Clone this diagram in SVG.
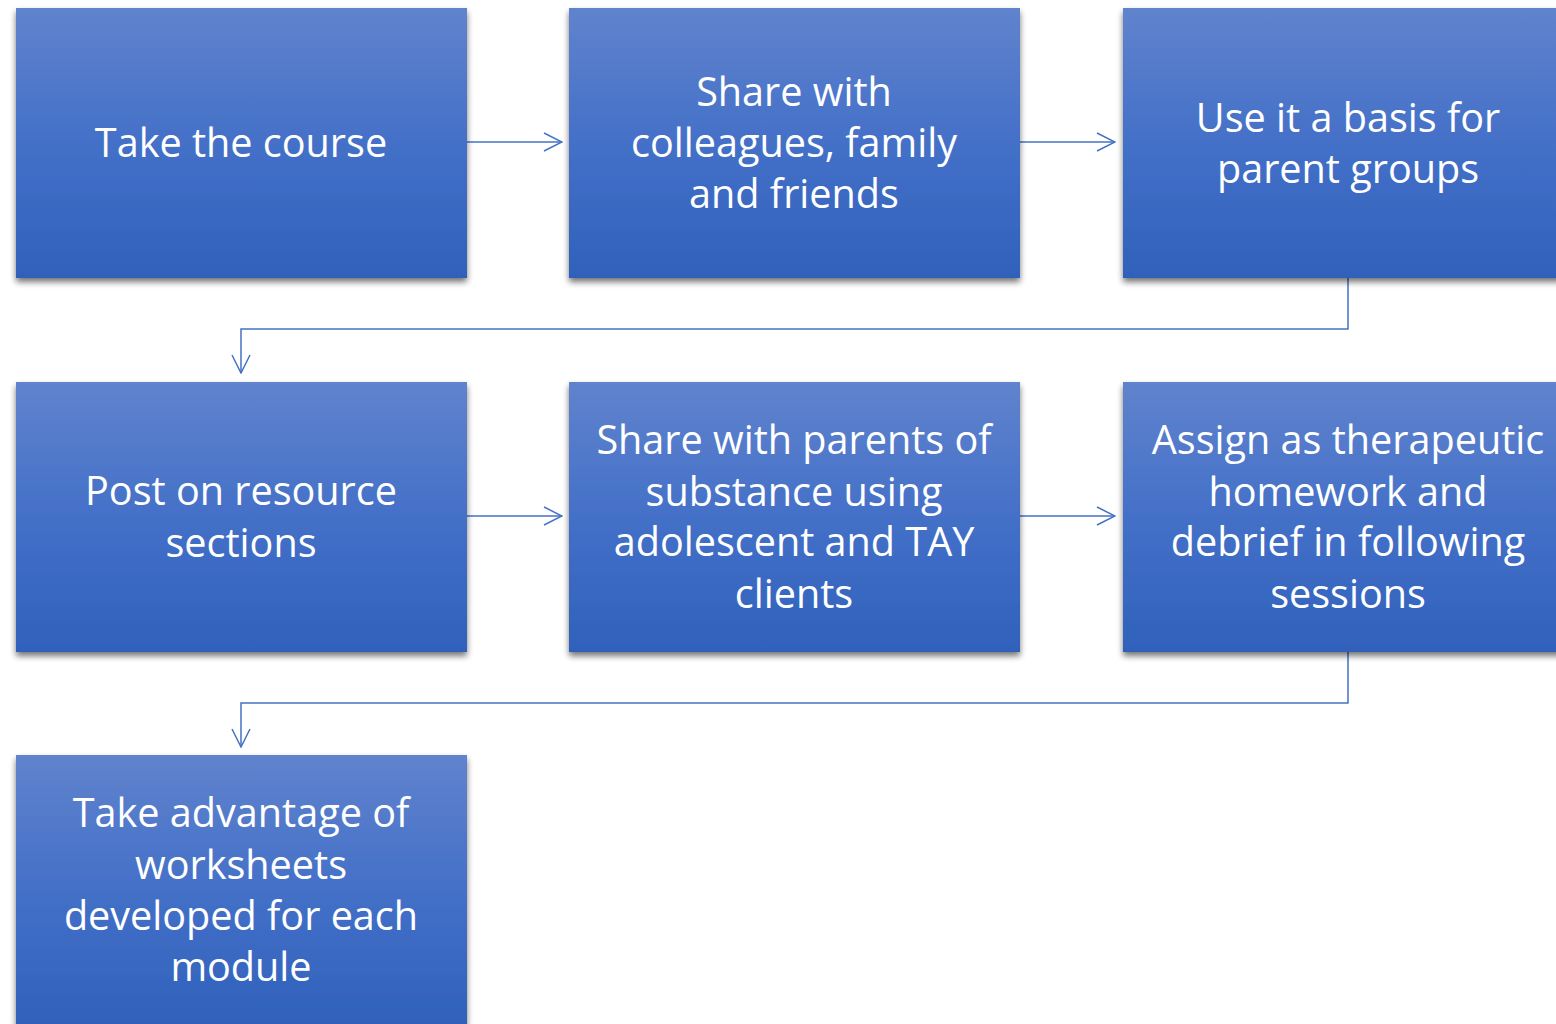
<svg xmlns="http://www.w3.org/2000/svg" width="1556" height="1024" viewBox="0 0 1556 1024">
<style>
.box{fill:url(#g);filter:url(#sh)}
.t{font-family:"Open Sans","Noto Sans","Liberation Sans",sans-serif;font-size:39.6px;fill:#ffffff;text-anchor:middle}
.c{fill:none;stroke:#4472c4;stroke-width:1.5;marker-end:url(#ah)}
</style>
<defs>
<linearGradient id="g" x1="0" y1="0" x2="0" y2="1">
<stop offset="0" stop-color="#6083cd"/>
<stop offset="0.5" stop-color="#4470c8"/>
<stop offset="1" stop-color="#2f61bb"/>
</linearGradient>
<filter id="sh" x="-10%" y="-10%" width="120%" height="130%">
<feGaussianBlur in="SourceAlpha" stdDeviation="3"/>
<feOffset dx="0" dy="4" result="b"/>
<feComponentTransfer><feFuncA type="linear" slope="0.55"/></feComponentTransfer>
<feMerge><feMergeNode/><feMergeNode in="SourceGraphic"/></feMerge>
</filter>
<marker id="ah" viewBox="0 0 20 20" refX="19" refY="10" markerWidth="20" markerHeight="20" markerUnits="userSpaceOnUse" orient="auto">
<path d="M1 1 L19 10 L1 19" fill="none" stroke="#4472c4" stroke-width="1.5"/>
</marker>
</defs>
<rect width="1556" height="1024" fill="#ffffff"/>
<g id="connectors">
<path class="c" d="M467 142 H562"/>
<path class="c" d="M1020 142 H1115"/>
<path class="c" d="M1348 278 V329 H241 V373"/>
<path class="c" d="M467 516 H562"/>
<path class="c" d="M1020 516 H1115"/>
<path class="c" d="M1348 652 V703 H241 V747"/>
</g>
<g id="n1"><rect class="box" x="16" y="8" width="451" height="270"/>
<text class="t" x="241" y="157">Take the course</text></g>
<g id="n2"><rect class="box" x="569" y="8" width="451" height="270"/>
<text class="t" x="794" y="106">Share with</text>
<text class="t" x="794" y="157">colleagues, family</text>
<text class="t" x="794" y="208">and friends</text></g>
<g id="n3"><rect class="box" x="1123" y="8" width="451" height="270"/>
<text class="t" x="1348" y="132">Use it a basis for</text>
<text class="t" x="1348" y="183">parent groups</text></g>
<g id="n4"><rect class="box" x="16" y="382" width="451" height="270"/>
<text class="t" x="241" y="505">Post on resource</text>
<text class="t" x="241" y="557">sections</text></g>
<g id="n5"><rect class="box" x="569" y="382" width="451" height="270"/>
<text class="t" x="794" y="454">Share with parents of</text>
<text class="t" x="794" y="506">substance using</text>
<text class="t" x="794" y="556">adolescent and TAY</text>
<text class="t" x="794" y="608">clients</text></g>
<g id="n6"><rect class="box" x="1123" y="382" width="451" height="270"/>
<text class="t" x="1348" y="454">Assign as therapeutic</text>
<text class="t" x="1348" y="506">homework and</text>
<text class="t" x="1348" y="556">debrief in following</text>
<text class="t" x="1348" y="608">sessions</text></g>
<g id="n7"><rect class="box" x="16" y="755" width="451" height="270"/>
<text class="t" x="241" y="827">Take advantage of</text>
<text class="t" x="241" y="879">worksheets</text>
<text class="t" x="241" y="930">developed for each</text>
<text class="t" x="241" y="981">module</text></g>
</svg>
